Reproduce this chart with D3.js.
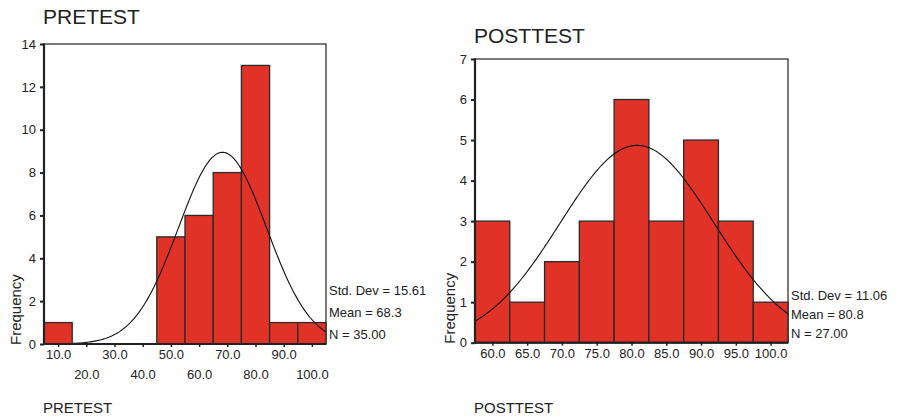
<!DOCTYPE html>
<html><head><meta charset="utf-8">
<script src="https://cdn.jsdelivr.net/npm/d3@7/dist/d3.min.js"></script>
<style>
body{margin:0;background:#fff;}
text{font-family:"Liberation Sans",Arial,sans-serif;fill:#222;}
</style></head>
<body>
<svg id="c" width="898" height="419"></svg>
<script>
// ---- Data ----
const preBins = [10, 20, 30, 40, 50, 60, 70, 80, 90, 100];
const preCounts = [1, 0, 0, 0, 5, 6, 8, 13, 1, 1];
const preTicksY = [0, 2, 4, 6, 8, 10, 12, 14];
const preStats = {sd: 15.61, mean: 68.3, n: 35, width: 10};
const preStatLabels = ["Std. Dev = 15.61", "Mean = 68.3", "N = 35.00"];

const postBins = [60, 65, 70, 75, 80, 85, 90, 95, 100];
const postCounts = [3, 1, 2, 3, 6, 3, 5, 3, 1];
const postTicksY = [0, 1, 2, 3, 4, 5, 6, 7];
const postStats = {sd: 11.06, mean: 80.8, n: 27, width: 5};
const postStatLabels = ["Std. Dev = 11.06", "Mean = 80.8", "N = 27.00"];

const svg = d3.select("#c");
const RED = "#e03226";

function panel(o) {
  const g = svg.append("g");
  const half = o.stats.width / 2;
  const x = d3.scaleLinear().domain([o.bins[0] - half, o.bins[o.bins.length - 1] + half]).range([o.x0, o.x1]);
  const y = d3.scaleLinear().domain([0, o.yTicks[o.yTicks.length - 1]]).range([o.y0, o.y1]);

  // title
  g.append("text").attr("x", o.x0 - 1).attr("y", o.titleY).attr("font-size", 21).text(o.title);

  // frame (top/right thin)
  g.append("rect").attr("x", o.x0).attr("y", o.y1).attr("width", o.x1 - o.x0).attr("height", o.y0 - o.y1)
    .attr("fill", "none").attr("stroke", "#333").attr("stroke-width", 1.3);

  // bars
  g.selectAll("rect.bar").data(o.bins.map((b, i) => ({b, c: o.counts[i]})).filter(d => d.c > 0))
    .enter().append("rect").attr("class", "bar")
    .attr("x", d => x(d.b - half)).attr("width", d => x(d.b + half) - x(d.b - half))
    .attr("y", d => y(d.c)).attr("height", d => y(0) - y(d.c))
    .attr("fill", RED).attr("stroke", "#2a2a2a").attr("stroke-width", 1.3);

  // normal curve
  const s = o.stats;
  const k = s.n * s.width / (s.sd * Math.sqrt(2 * Math.PI));
  const xs = d3.range(x.domain()[0], x.domain()[1] + 0.001, (x.domain()[1] - x.domain()[0]) / 200);
  const line = d3.line().x(v => x(v)).y(v => y(k * Math.exp(-0.5 * Math.pow((v - s.mean) / s.sd, 2))));
  g.append("path").datum(xs).attr("d", line).attr("fill", "none").attr("stroke", "#111").attr("stroke-width", 1.1);

  // axes (thick left & bottom)
  g.append("line").attr("x1", o.x0).attr("x2", o.x0).attr("y1", o.y1 - 0.5).attr("y2", o.y0 + 1)
    .attr("stroke", "#222").attr("stroke-width", 2.2);
  g.append("line").attr("x1", o.x0 - 1).attr("x2", o.x1).attr("y1", o.y0).attr("y2", o.y0)
    .attr("stroke", "#222").attr("stroke-width", 2.2);

  const yAxis = d3.axisLeft(y).tickValues(o.yTicks).tickSize(4).tickPadding(4).tickFormat(d3.format("d"));
  const ga = g.append("g").attr("transform", `translate(${o.x0},0)`).call(yAxis);
  ga.select(".domain").remove();
  ga.selectAll("line").attr("stroke", "#222").attr("stroke-width", 2);
  ga.selectAll("text").attr("font-size", 13).attr("font-family", '"Liberation Sans",Arial,sans-serif').attr("fill", "#222");

  const xAxis = d3.axisBottom(x).tickValues(o.bins).tickSize(3).tickPadding(0).tickFormat(d3.format(".1f"));
  const gx = g.append("g").attr("transform", `translate(0,${o.y0})`).call(xAxis);
  gx.select(".domain").remove();
  gx.selectAll("line").attr("stroke", "#222").attr("stroke-width", 1.5);
  gx.selectAll("text").attr("font-size", 13).attr("font-family", '"Liberation Sans",Arial,sans-serif').attr("fill", "#222")
    .attr("dy", null)
    .attr("y", (d, i) => o.stagger ? (i % 2 === 0 ? 15 : 35) : 15);

  // y label
  g.append("text").attr("transform", `translate(${o.freqX},${o.y0 + 1}) rotate(-90)`)
    .attr("font-size", 15).text("Frequency");

  // x label
  g.append("text").attr("x", o.x0 - 1).attr("y", 413).attr("font-size", 15).text(o.title);

  // stats
  g.selectAll("text.st").data(o.statLabels).enter().append("text").attr("class", "st")
    .attr("x", o.x1 + 3).attr("y", (d, i) => o.statY + i * o.statGap).attr("font-size", 13).text(d => d);
}

panel({title: "PRETEST", bins: preBins, counts: preCounts, yTicks: preTicksY, stats: preStats, statLabels: preStatLabels,
  x0: 44, x1: 326, y0: 344, y1: 44, titleY: 24, stagger: true, freqX: 21, statY: 295, statGap: 22});
panel({title: "POSTTEST", bins: postBins, counts: postCounts, yTicks: postTicksY, stats: postStats, statLabels: postStatLabels,
  x0: 475, x1: 788, y0: 342.7, y1: 59, titleY: 42.7, stagger: false, freqX: 455, statY: 299.5, statGap: 19.2});
</script>
</body></html>
